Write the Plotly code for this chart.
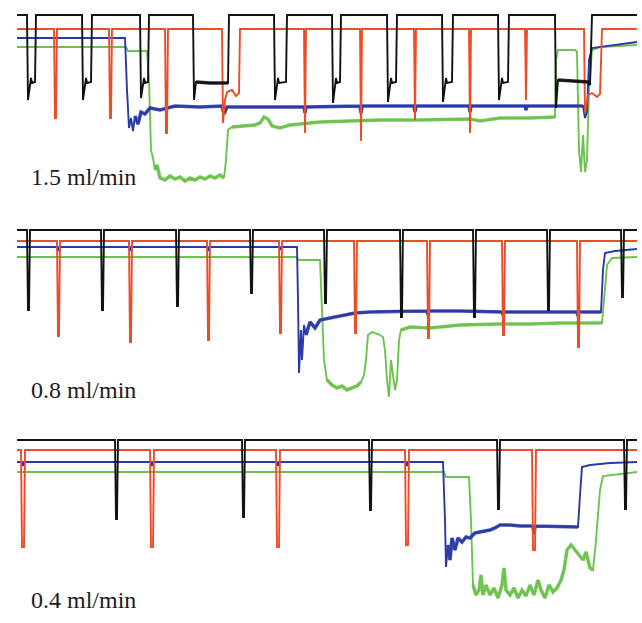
import plotly.graph_objects as go

# ---------------- data (time in s, signal depth in a.u.; larger = lower trace) ----------------
labels = ["1.5 ml/min", "0.8 ml/min", "0.4 ml/min"]

# Panel 1 : 1.5 ml/min
p1_black_x = [17, 27, 28, 30, 31, 32, 35, 36,
              82, 83, 85, 86, 87, 91, 92,
              140, 141, 143, 144, 145, 148, 149,
              193, 194, 196, 210, 228, 229,
              274, 275, 277, 278, 279, 286, 287,
              332, 333, 335, 336, 337, 340, 341,
              387, 388, 390, 391, 392, 396, 397,
              442, 443, 445, 446, 447, 452, 453,
              498, 499, 501, 502, 503, 508, 509,
              555, 556, 558, 588, 590, 592, 637]
p1_black_y = [15, 15, 100, 84, 78, 83, 82, 15,
              15, 100, 84, 78, 83, 82, 15,
              15, 98, 84, 78, 83, 82, 15,
              15, 100, 82, 83, 83, 15,
              15, 100, 84, 78, 83, 82, 15,
              15, 103, 84, 78, 83, 82, 15,
              15, 102, 84, 78, 83, 82, 15,
              15, 102, 84, 78, 83, 82, 15,
              15, 100, 84, 78, 83, 82, 15,
              15, 108, 80, 82, 85, 15, 15]
p1_black_ripple = [(196, 228), (558, 590)]

p1_red_x = [17, 54, 55, 56, 57, 109, 110, 111, 112, 165, 166, 167, 168,
            222, 223, 225, 227, 232, 236, 239, 240,
            304, 305, 306, 360, 361, 362, 414, 415, 416, 469, 470, 471, 525, 526, 527,
            584, 585, 588, 592, 597, 600, 602, 637]
p1_red_y = [29, 29, 118, 118, 29, 29, 118, 118, 29, 29, 133, 133, 29,
            29, 123, 100, 92, 90, 96, 93, 29,
            29, 133, 29, 29, 141, 29, 29, 120, 29, 29, 133, 29, 29, 100, 29,
            29, 113, 95, 93, 97, 94, 29, 29]

p1_blue_x = [17, 125, 127, 129, 131, 133, 135, 138, 141, 145, 150, 160, 175, 200, 222, 224, 227,
             304, 305, 306, 360, 361, 362, 414, 415, 416, 469, 470, 471, 525, 526, 527,
             583, 585, 587, 589, 592, 600, 620, 637]
p1_blue_y = [38, 38, 90, 128, 118, 131, 116, 124, 112, 114, 108, 110, 106, 107, 106, 114, 107,
             107, 113, 107, 106, 113, 106, 106, 112, 106, 106, 112, 106, 106, 110, 106,
             106, 118, 112, 60, 48, 47, 44, 42]
p1_blue_ripple = [(135, 583)]

p1_green_x = [17, 126, 128, 147, 149, 151, 153, 155, 157, 160, 165, 170, 175, 180, 185, 190, 195,
              200, 205, 210, 215, 220, 224, 226, 228, 232, 245, 255, 260, 264, 268, 272, 280,
              290, 300, 320, 350, 380, 420, 450, 470, 480, 500, 530, 555, 556, 558, 575, 577,
              579, 581, 583, 585, 587, 589, 592, 600, 637]
p1_green_y = [47, 47, 51, 51, 80, 150, 158, 170, 165, 178, 180, 176, 179, 177, 181, 178, 180,
              177, 179, 176, 178, 175, 178, 160, 130, 127, 126, 125, 123, 117, 119, 126, 128,
              125, 124, 122, 121, 120, 120, 119, 119, 121, 118, 118, 117, 60, 50, 50, 52,
              150, 172, 135, 172, 160, 90, 50, 47, 45]
p1_green_ripple = [(155, 224), (232, 555)]

# Panel 2 : 0.8 ml/min
p2_black_x = [17, 27, 28, 29, 30, 101, 102, 103, 104, 176, 177, 178, 179, 250, 251, 252, 253,
              324, 325, 326, 327, 400, 401, 402, 403, 473, 474, 475, 476, 547, 548, 549, 550,
              621, 622, 623, 624, 637]
p2_black_y = [20, 20, 100, 100, 20, 20, 100, 100, 20, 20, 96, 96, 20, 20, 83, 83, 20,
              20, 93, 93, 20, 20, 107, 107, 20, 20, 107, 107, 20, 20, 100, 100, 20,
              20, 87, 87, 20, 20]

p2_red_x = [17, 57, 58, 59, 60, 129, 130, 131, 132, 207, 208, 209, 210, 279, 280, 281, 282,
            354, 355, 356, 357, 427, 428, 429, 430, 502, 503, 504, 505, 577, 578, 579, 580, 637]
p2_red_y = [31, 31, 126, 126, 31, 31, 132, 132, 31, 31, 130, 130, 31, 31, 123, 123, 31,
            31, 123, 123, 31, 31, 128, 128, 31, 31, 125, 125, 31, 31, 137, 137, 31, 31]

p2_blue_x = [17, 57, 58, 59, 129, 130, 131, 207, 208, 209, 279, 280, 281, 297, 298, 299, 301,
             302, 304, 306, 310, 315, 320, 330, 340, 355, 370, 400, 427, 428, 429, 460, 502,
             503, 504, 540, 577, 578, 579, 601, 603, 605, 615, 637]
p2_blue_y = [37, 37, 41, 37, 37, 41, 37, 37, 41, 37, 37, 40, 37, 37, 90, 163, 120,
             150, 115, 125, 112, 118, 110, 108, 106, 103, 102, 101, 101, 105, 101, 101, 102,
             105, 102, 102, 102, 106, 102, 102, 60, 43, 41, 39]
p2_blue_ripple = [(306, 601)]

p2_green_x = [17, 297, 298, 320, 322, 324, 327, 332, 337, 342, 347, 352, 357, 361, 364, 366,
              368, 372, 378, 383, 385, 387, 389, 391, 393, 395, 397, 399, 401, 410, 430, 460,
              500, 530, 560, 602, 604, 607, 612, 637]
p2_green_y = [47, 47, 50, 50, 100, 150, 170, 175, 178, 176, 180, 178, 176, 172, 165, 150,
              125, 122, 124, 127, 140, 170, 187, 150, 165, 180, 170, 130, 120, 117, 118, 115,
              114, 114, 113, 113, 90, 55, 48, 47]
p2_green_ripple = [(327, 363), (401, 602)]

# Panel 3 : 0.4 ml/min
p3_black_x = [17, 115, 116, 117, 118, 242, 243, 244, 245, 369, 370, 371, 372,
              497, 498, 499, 500, 624, 625, 626, 627, 637]
p3_black_y = [20, 20, 99, 99, 20, 20, 97, 97, 20, 20, 90, 90, 20,
              20, 89, 89, 20, 20, 89, 89, 20, 20]

p3_red_x = [17, 21, 22, 24, 25, 150, 151, 153, 154, 276, 277, 279, 280,
            405, 406, 408, 409, 532, 533, 535, 536, 637]
p3_red_y = [30, 30, 127, 127, 30, 30, 127, 127, 30, 30, 127, 127, 30,
            30, 125, 125, 30, 30, 130, 130, 30, 30]

p3_blue_x = [17, 22, 23, 24, 151, 152, 153, 277, 278, 279, 406, 407, 408, 443, 445, 446,
             448, 450, 452, 455, 458, 462, 466, 470, 475, 480, 490, 495, 500, 510, 520, 533,
             534, 535, 560, 578, 580, 582, 590, 610, 637]
p3_blue_y = [42, 42, 46, 42, 42, 46, 42, 42, 46, 42, 42, 46, 42, 42, 100, 147,
             125, 140, 118, 130, 118, 122, 117, 118, 113, 112, 110, 108, 105, 105, 106, 106,
             114, 106, 107, 107, 75, 47, 45, 43, 42]
p3_blue_ripple = [(448, 578)]

p3_green_x = [17, 444, 446, 469, 471, 473, 476, 479, 481, 483, 486, 490, 494, 498, 502, 504,
              506, 510, 514, 518, 522, 526, 530, 534, 538, 541, 545, 549, 553, 557, 561, 564,
              567, 571, 575, 579, 583, 586, 590, 593, 596, 600, 603, 637]
p3_green_y = [52, 52, 57, 57, 100, 165, 175, 170, 155, 175, 165, 175, 168, 178, 165, 148,
              170, 175, 168, 178, 170, 176, 165, 175, 160, 170, 178, 165, 172, 168, 160, 150,
              130, 125, 130, 135, 140, 132, 148, 150, 120, 70, 56, 52]
p3_green_ripple = [(473, 593)]

# ---------------- styling / layout ----------------
W, H = 642, 623
panel_top = [0, 210, 420]
panel_h = [200, 200, 203]
COL = {"black": "#121212", "red": "#ee4b27", "blue": "#2b38a8", "green": "#6cc24c"}

panels = [
    {"black": (p1_black_x, p1_black_y, p1_black_ripple), "red": (p1_red_x, p1_red_y, []),
     "blue": (p1_blue_x, p1_blue_y, p1_blue_ripple), "green": (p1_green_x, p1_green_y, p1_green_ripple)},
    {"black": (p2_black_x, p2_black_y, []), "red": (p2_red_x, p2_red_y, []),
     "blue": (p2_blue_x, p2_blue_y, p2_blue_ripple), "green": (p2_green_x, p2_green_y, p2_green_ripple)},
    {"black": (p3_black_x, p3_black_y, []), "red": (p3_red_x, p3_red_y, []),
     "blue": (p3_blue_x, p3_blue_y, p3_blue_ripple), "green": (p3_green_x, p3_green_y, p3_green_ripple)},
]


def band(xs, ys, ranges):
    bx, by = [], []
    for lo, hi in ranges:
        for x, y in zip(xs, ys):
            if lo <= x <= hi:
                bx.append(x)
                by.append(y)
        bx.append(None)
        by.append(None)
    return bx, by


fig = go.Figure()
for i, p in enumerate(panels):
    yref = "y" if i == 0 else f"y{i + 1}"
    for name in ["green", "blue", "red", "black"]:
        xs, ys, rip = p[name]
        fig.add_trace(go.Scatter(x=xs, y=ys, mode="lines", xaxis="x", yaxis=yref,
                                 line=dict(color=COL[name], width=1.9), hoverinfo="skip",
                                 showlegend=False))
        if rip:
            bx, by = band(xs, ys, rip)
            fig.add_trace(go.Scatter(x=bx, y=by, mode="lines", xaxis="x", yaxis=yref,
                                     line=dict(color=COL[name], width=3.6), opacity=0.85,
                                     hoverinfo="skip", showlegend=False))
    fig.add_annotation(x=29, y=180 if i else 177, xref="x", yref=yref, text=labels[i],
                       showarrow=False, xanchor="left", yanchor="middle",
                       font=dict(family="Liberation Serif, Times New Roman, serif", size=24,
                                 color="#1b1b1b"))

layout = dict(width=W, height=H, margin=dict(l=0, r=0, t=0, b=0),
              paper_bgcolor="white", plot_bgcolor="white",
              xaxis=dict(range=[0, W], domain=[0, 1], visible=False, fixedrange=True))
for i in range(3):
    key = "yaxis" if i == 0 else f"yaxis{i + 1}"
    top = 1 - panel_top[i] / H
    bot = 1 - (panel_top[i] + panel_h[i]) / H
    layout[key] = dict(range=[panel_h[i], 0], domain=[max(bot, 0), top], visible=False,
                       fixedrange=True)
fig.update_layout(**layout)

fig.write_html("out.html", config={"displayModeBar": False},
               post_script="document.body.style.margin='0px';document.body.style.overflow='hidden';")
